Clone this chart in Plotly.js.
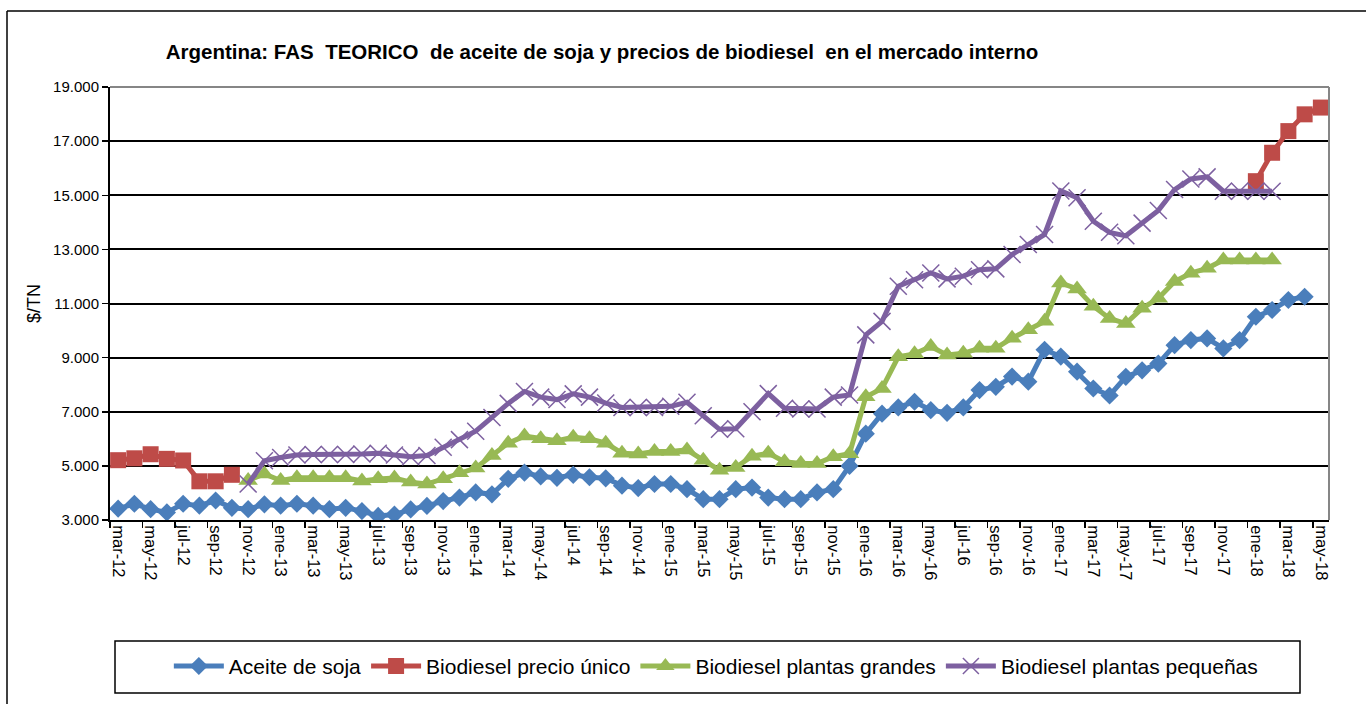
<!DOCTYPE html>
<html>
<head>
<meta charset="utf-8">
<script src="https://cdn.plot.ly/plotly-3.0.1.min.js"></script>
<style>
  html, body { margin: 0; padding: 0; background: #fff; }
  #chart { width: 1366px; height: 704px; }
</style>
</head>
<body>
<div id="chart"></div>
<script>
const months = [
  "mar-12","abr-12","may-12","jun-12","jul-12","ago-12","sep-12","oct-12","nov-12","dic-12",
  "ene-13","feb-13","mar-13","abr-13","may-13","jun-13","jul-13","ago-13","sep-13","oct-13","nov-13","dic-13",
  "ene-14","feb-14","mar-14","abr-14","may-14","jun-14","jul-14","ago-14","sep-14","oct-14","nov-14","dic-14",
  "ene-15","feb-15","mar-15","abr-15","may-15","jun-15","jul-15","ago-15","sep-15","oct-15","nov-15","dic-15",
  "ene-16","feb-16","mar-16","abr-16","may-16","jun-16","jul-16","ago-16","sep-16","oct-16","nov-16","dic-16",
  "ene-17","feb-17","mar-17","abr-17","may-17","jun-17","jul-17","ago-17","sep-17","oct-17","nov-17","dic-17",
  "ene-18","feb-18","mar-18","abr-18","may-18"
];

const aceiteSoja = [
  3420,3600,3400,3280,3600,3530,3720,3450,3400,3580,
  3530,3600,3530,3400,3450,3330,3150,3200,3390,3520,3700,3830,
  4020,3950,4520,4750,4610,4560,4670,4580,4540,4270,4180,4330,
  4330,4140,3770,3770,4140,4200,3830,3770,3770,4020,4140,5000,
  6190,6930,7160,7370,7060,6960,7160,7800,7920,8300,8110,9290,
  9040,8480,7860,7600,8290,8530,8780,9460,9650,9710,9340,9650,
  10510,10760,11130,11250,null
];

const biodieselUnico = [
  5210,5280,5430,5260,5200,4430,4430,4670,null,null,
  null,null,null,null,null,null,null,null,null,null,null,null,
  null,null,null,null,null,null,null,null,null,null,null,null,
  null,null,null,null,null,null,null,null,null,null,null,null,
  null,null,null,null,null,null,null,null,null,null,null,null,
  null,null,null,null,null,null,null,null,null,null,null,null,
  15520,16570,17370,17990,18240
];

const biodieselGrandes = [
  null,null,null,null,null,null,null,null,4460,4700,
  4460,4560,4560,4560,4560,4440,4520,4550,4400,4330,4520,4750,
  4920,5380,5840,6100,6000,5930,6060,6000,5840,5470,5440,5530,
  5530,5590,5210,4840,4940,5360,5470,5150,5090,5090,5340,5450,
  7550,7860,9030,9140,9410,9100,9160,9350,9350,9720,10030,10340,
  11760,11540,10900,10450,10260,10820,11190,11810,12120,12300,12610,12610,
  12610,12610,null,null,null
];

const biodieselPequenas = [
  null,null,null,null,null,null,null,null,4330,5190,
  5310,5400,5420,5420,5420,5440,5470,5400,5340,5380,5690,5970,
  6280,6790,7310,7750,7540,7450,7660,7540,7320,7160,7160,7160,
  7200,7350,6850,6350,6370,7000,7670,7130,7100,7100,7540,7620,
  9840,10340,11640,11880,12130,11910,12010,12250,12280,12810,13180,13550,
  15160,14910,14040,13630,13500,13970,14440,15210,15600,15680,15150,15150,
  15150,15150,null,null,null
];

const seriesNames = ["Aceite de soja", "Biodiesel precio único", "Biodiesel plantas grandes", "Biodiesel plantas pequeñas"];
const chartTitle = "Argentina: FAS\u00A0 TEORICO\u00A0 de aceite de soja y precios de biodiesel\u00A0 en el mercado interno";
const yTitle = "$/TN";

const FONT = "Liberation Sans, Arial, sans-serif";

const traces = [
  { x: months, y: aceiteSoja, name: seriesNames[0], type: "scatter", mode: "lines+markers",
    line: { color: "#4A7EBB", width: 5 },
    marker: { symbol: "diamond", size: 14, color: "#4A7EBB" } },
  { x: months, y: biodieselUnico, name: seriesNames[1], type: "scatter", mode: "lines+markers",
    line: { color: "#BE4B48", width: 5 },
    marker: { symbol: "square", size: 16, color: "#BE4B48" } },
  { x: months, y: biodieselGrandes, name: seriesNames[2], type: "scatter", mode: "lines+markers",
    line: { color: "#98B954", width: 5 },
    marker: { symbol: "triangle-up", size: 17, color: "#98B954" } },
  { x: months, y: biodieselPequenas, name: seriesNames[3], type: "scatter", mode: "lines+markers",
    line: { color: "#7D60A0", width: 5 },
    marker: { symbol: "x-thin-open", size: 17, color: "#7D60A0", line: { color: "#7D60A0", width: 1.5 } } }
];

const layout = {
  width: 1366, height: 704,
  margin: { l: 110, r: 37, t: 87, b: 184 },
  paper_bgcolor: "#ffffff",
  plot_bgcolor: "#ffffff",
  separators: ",.",
  showlegend: true,
  font: { family: FONT, color: "#000" },
  title: {
    text: "<b>" + chartTitle + "</b>",
    font: { family: FONT, size: 20.5, color: "#000" },
    x: 0.4036, xref: "paper", xanchor: "center",
    y: 0.926, yref: "container", yanchor: "middle"
  },
  xaxis: {
    type: "category",
    range: [-0.5, 74.5],
    tickmode: "linear", tick0: 0, dtick: 2,
    tickson: "boundaries",
    ticks: "outside", ticklen: 6, tickcolor: "#000", tickwidth: 1.5,
    tickangle: 90,
    tickfont: { family: FONT, size: 16.5, color: "#000" },
    showgrid: false,
    showline: true, linecolor: "#000", linewidth: 2,
    zeroline: false,
    fixedrange: true
  },
  yaxis: {
    range: [3000, 19000],
    tickmode: "linear", tick0: 3000, dtick: 2000,
    tickformat: ",",
    ticks: "outside", ticklen: 6, tickcolor: "#000", tickwidth: 1.5,
    tickfont: { family: FONT, size: 15, color: "#000" },
    showgrid: true, gridcolor: "#000", gridwidth: 2,
    showline: true, linecolor: "#000", linewidth: 2,
    zeroline: false,
    title: { text: yTitle, font: { family: FONT, size: 18, color: "#000" }, standoff: 8 },
    fixedrange: true
  },
  legend: {
    orientation: "h",
    x: 0.497, xanchor: "center", xref: "paper",
    y: -0.338, yanchor: "middle", yref: "paper",
    font: { family: FONT, size: 21, color: "#000" },
    bgcolor: "rgba(0,0,0,0)", borderwidth: 0,
    itemwidth: 50,
    traceorder: "normal"
  },
  shapes: [
    { type: "line", xref: "paper", yref: "paper", x0: 0, x1: 1, y0: 1, y1: 1, line: { color: "#868686", width: 2 } },
    { type: "line", xref: "paper", yref: "paper", x0: 1, x1: 1, y0: 0, y1: 1, line: { color: "#868686", width: 2 } },
    { type: "rect", xref: "paper", yref: "paper",
      x0: (115 - 110) / 1219, x1: (1300 - 110) / 1219,
      y0: (520 - 693) / 433, y1: (520 - 641) / 433,
      line: { color: "#000", width: 1.5 }, fillcolor: "rgba(0,0,0,0)", layer: "below" },
    { type: "line", xref: "paper", yref: "paper",
      x0: (7 - 110) / 1219, x1: (7 - 110) / 1219, y0: (520 - 704) / 433, y1: (520 - 11) / 433,
      line: { color: "#000", width: 1.5 } },
    { type: "line", xref: "paper", yref: "paper",
      x0: (7 - 110) / 1219, x1: (1366 - 110) / 1219, y0: (520 - 11) / 433, y1: (520 - 11) / 433,
      line: { color: "#000", width: 1.5 } }
  ]
};

Plotly.newPlot("chart", traces, layout, { displayModeBar: false, staticPlot: true });
</script>
</body>
</html>
